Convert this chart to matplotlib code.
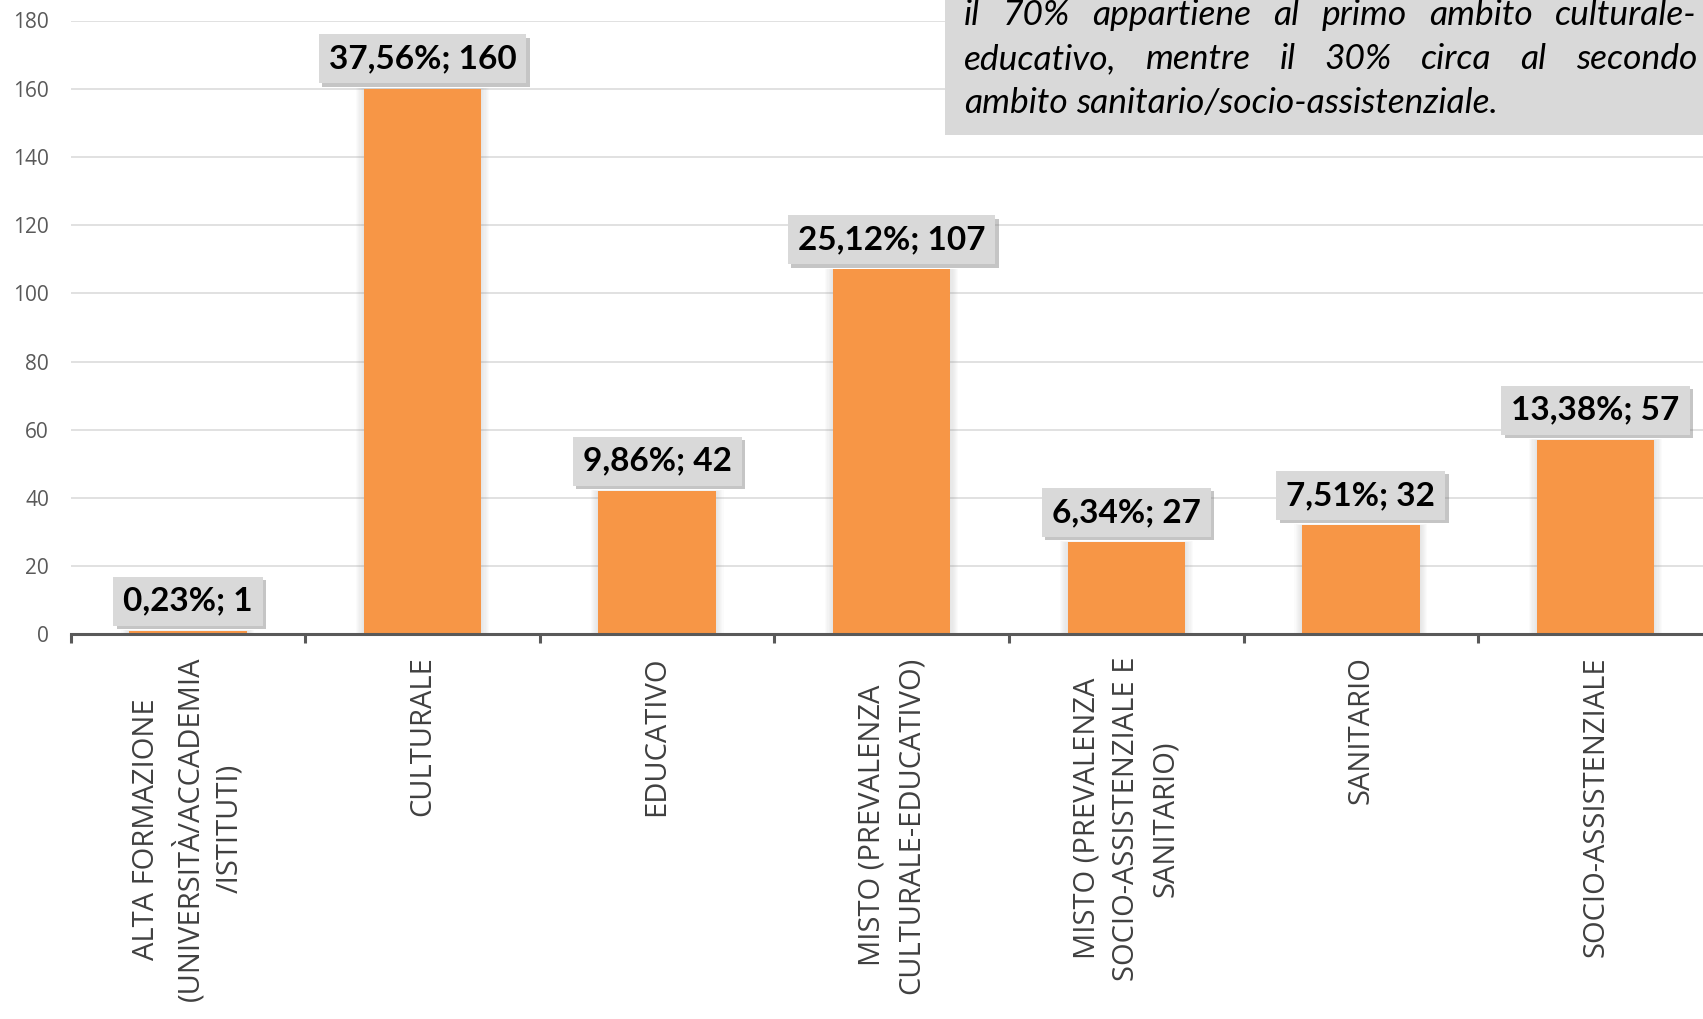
import matplotlib
matplotlib.use("Agg")
import matplotlib.pyplot as plt
import matplotlib.patheffects as pe
from matplotlib.patches import Rectangle
import numpy as np

# ---- data ----
categories = [
    "ALTA FORMAZIONE\n(UNIVERSITÀ/ACCADEMIA\n/ISTITUTI)",
    "CULTURALE",
    "EDUCATIVO",
    "MISTO (PREVALENZA\nCULTURALE-EDUCATIVO)",
    "MISTO (PREVALENZA\nSOCIO-ASSISTENZIALE E\nSANITARIO)",
    "SANITARIO",
    "SOCIO-ASSISTENZIALE",
]
counts = [1, 160, 42, 107, 27, 32, 57]
y_ticks = [0, 20, 40, 60, 80, 100, 120, 140, 160, 180]

note_lines = [
    "il 70% appartiene al primo ambito culturale-",
    "educativo, mentre il 30% circa al secondo",
    "ambito sanitario/socio-assistenziale.",
]

BAR_COLOR = "#F79646"
GRID_COLOR = "#D9D9D9"
AXIS_COLOR = "#595959"
LABEL_BOX = "#D9D9D9"

W_PX, H_PX = 1703, 1019
fig = plt.figure(figsize=(W_PX / 100, H_PX / 100), dpi=100)
fig.patch.set_facecolor("white")

# axes placed in pixel terms (plot area runs past the right edge)
left_px, base_px, top_px, cat_px = 70.6, 634.3, 20.5, 234.6
ax = fig.add_axes([left_px / W_PX, 1 - base_px / H_PX,
                   7 * cat_px / W_PX, (base_px - top_px) / H_PX])
ax.set_xlim(-0.5, 6.5)
ax.set_ylim(0, 180)

x = np.arange(len(counts))
total = sum(counts)

# soft glow around the bars
for k in range(7, 0, -1):
    ax.bar(x, [c + 0.25 * k * 0.15 for c in counts], width=0.5 + k * 0.0095,
           color="#9a9a9a", alpha=0.035, linewidth=0, zorder=2)
ax.bar(x, counts, width=0.5, color=BAR_COLOR, linewidth=0, zorder=3)

# grid / spines
ax.set_yticks(y_ticks)
ax.yaxis.grid(True, color=GRID_COLOR, linewidth=1.1, zorder=0)
ax.set_axisbelow(True)
for s in ["top", "right", "left"]:
    ax.spines[s].set_visible(False)
ax.spines["bottom"].set_color(AXIS_COLOR)
ax.spines["bottom"].set_linewidth(2.2)
ax.spines["bottom"].set_zorder(4)

ax.tick_params(axis="y", length=0, pad=15.5, labelsize=15,
               labelcolor=AXIS_COLOR)
for lab in ax.get_yticklabels():
    lab.set_fontfamily("Open Sans")

ax.set_xticks(x)
ax.set_xticklabels(categories, rotation=90, ha="center", va="top",
                   multialignment="center", fontsize=21,
                   fontfamily="Open Sans", color="#404040", linespacing=1.45)
ax.tick_params(axis="x", which="major", length=0, pad=16)
ax.set_xticks(np.arange(-0.5, 7.0, 1.0), minor=True)
ax.tick_params(axis="x", which="minor", length=6.5, width=2.2,
               color=AXIS_COLOR, direction="out")

# value labels in shaded boxes
for xi, c in zip(x, counts):
    pct = c / total * 100
    txt = f"{pct:.2f}".replace(".", ",") + f"%; {c}"
    t = ax.annotate(txt, xy=(xi, c), xytext=(0, 11), textcoords="offset points",
                    ha="center", va="bottom", fontsize=24, fontweight="bold",
                    fontfamily="Lato", color="black", zorder=6,
                    bbox=dict(boxstyle="square,pad=0.3", fc=LABEL_BOX, ec="none"))
    t.get_bbox_patch().set_path_effects([
        pe.SimplePatchShadow(offset=(2.5, -2.5), shadow_rgbFace="#808080", alpha=0.45),
        pe.Normal(),
    ])

# commentary box in the top-right corner
box_left, box_bottom = 945, 134.7
fig.patches.append(Rectangle((box_left / W_PX, 1 - box_bottom / H_PX),
                             1.0, 1.0, transform=fig.transFigure,
                             facecolor=LABEL_BOX, edgecolor="none", zorder=5))

note_font = dict(fontsize=25.5, fontstyle="italic", fontfamily="Lato",
                 color="black", va="baseline", ha="left", zorder=6)
text_x0, text_x1 = 964, 1697
baselines = [25, 69, 113]
renderer = fig.canvas.get_renderer()
for i, (line, yb) in enumerate(zip(note_lines, baselines)):
    words = line.split(" ")
    objs = [fig.text(0, 1 - yb / H_PX, w, **note_font) for w in words]
    widths = [o.get_window_extent(renderer).width for o in objs]
    if i < len(note_lines) - 1:
        gap = (text_x1 - text_x0 - sum(widths)) / (len(words) - 1)
    else:
        sp = fig.text(0, 0, "a a", **note_font)
        sa = fig.text(0, 0, "aa", **note_font)
        gap = sp.get_window_extent(renderer).width - sa.get_window_extent(renderer).width
        sp.remove()
        sa.remove()
    xp = text_x0
    for o, w in zip(objs, widths):
        o.set_x(xp / W_PX)
        xp += w + gap

fig.savefig("out.png", dpi=100)
